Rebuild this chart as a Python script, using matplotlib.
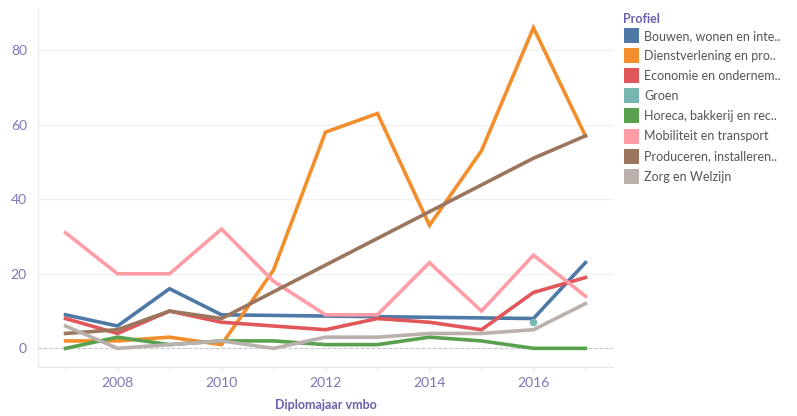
import numpy as np
import matplotlib
matplotlib.use('Agg')
import matplotlib.pyplot as plt
from matplotlib.patches import Rectangle

plt.rcParams['font.family'] = ['Lato', 'DejaVu Sans']

# data
years = [2007, 2008, 2009, 2010, 2011, 2012, 2013, 2014, 2015, 2016, 2017]
bouwen = [9, 6, 16, 9, None, None, None, None, None, 8, 23]
dienst = [2, 2, 3, 1, 21, 58, 63, 33, 53, 86, 57]
economie = [8, 4, 10, 7, 6, 5, 8, 7, 5, 15, 19]
groen = [None, None, None, None, None, None, None, None, None, 7, None]
horeca = [0, 3, 1, 2, 2, 1, 1, 3, 2, 0, 0]
mobiliteit = [31, 20, 20, 32, 18, 9, 9, 23, 10, 25, 14]
produceren = [4, 5, 10, 8, None, None, None, None, None, 51, 57]
zorg = [6, 0, 1, 2, 0, 3, 3, 4, 4, 5, 12]

labels = ['Bouwen, wonen en inte..', 'Dienstverlening en pro..',
          'Economie en ondernem..', 'Groen', 'Horeca, bakkerij en rec..',
          'Mobiliteit en transport', 'Produceren, installeren..',
          'Zorg en Welzijn']
colors = ['#4e79a7', '#f28e2b', '#e15759', '#76b7b2', '#59a14f',
          '#ff9da7', '#9c755f', '#bab0ac']
series = [bouwen, dienst, economie, groen, horeca, mobiliteit, produceren, zorg]

W, H = 797, 416
fig = plt.figure(figsize=(W / 100, H / 100), dpi=100)
ax = fig.add_axes([38 / W, 1 - 367 / H, (613 - 38) / W, (367 - 8) / H])

tick_col = '#7f76b8'
title_col = '#6a5fae'

ax.axhline(0, color='#c8c8c8', lw=0.8, ls=(0, (3, 2)), zorder=1)

# draw in reverse so the first series ends up on top like tableau
order = [5, 4, 7, 2, 6, 0, 1, 3]
for i in order:
    s = series[i]
    xs = [y for y, v in zip(years, s) if v is not None]
    vs = [v for v in s if v is not None]
    if len(vs) == 1:
        ax.plot(xs, vs, 'o', color=colors[i], ms=4.5, zorder=3 + i)
    else:
        ax.plot(xs, vs, '-', color=colors[i], lw=2.6, zorder=3 + i,
                solid_joinstyle='miter')

ax.set_xlim(2006.47, 2017.53)
ax.set_ylim(-5, 91.3)
ax.set_yticks([0, 20, 40, 60, 80])
ax.set_xticks([2008, 2010, 2012, 2014, 2016])
ax.set_xticks(years, minor=True)
ax.grid(axis='y', color='#f0f0f0', lw=1)
ax.set_axisbelow(True)
for side in ['top', 'right']:
    ax.spines[side].set_visible(False)
for side in ['left', 'bottom']:
    ax.spines[side].set_color('#e8e8e8')
ax.tick_params(axis='y', length=0, labelsize=10, labelcolor=tick_col, pad=8)
ax.tick_params(axis='x', which='both', length=3, color='#e8e8e8',
               labelsize=10, labelcolor=tick_col, pad=4)
ax.set_xlabel('Diplomajaar vmbo', fontsize=9, fontweight='bold',
              color=title_col, va='center')
ax.xaxis.set_label_coords(0.5, (367 - 405) / 359)

# legend drawn by hand
fig.text(623 / W, 1 - 19 / H, 'Profiel', fontsize=9, fontweight='bold',
         color=title_col, va='center', ha='left')
for k, (lab, c) in enumerate(zip(labels, colors)):
    yc = 36 + k * 20.1
    fig.add_artist(Rectangle((624 / W, 1 - (yc + 7) / H), 15 / W, 15 / H,
                             transform=fig.transFigure, color=c, lw=0))
    fig.text(644 / W, 1 - yc / H, lab, fontsize=9, color='#555555',
             va='center', ha='left')

plt.savefig('out.png', dpi=100)
